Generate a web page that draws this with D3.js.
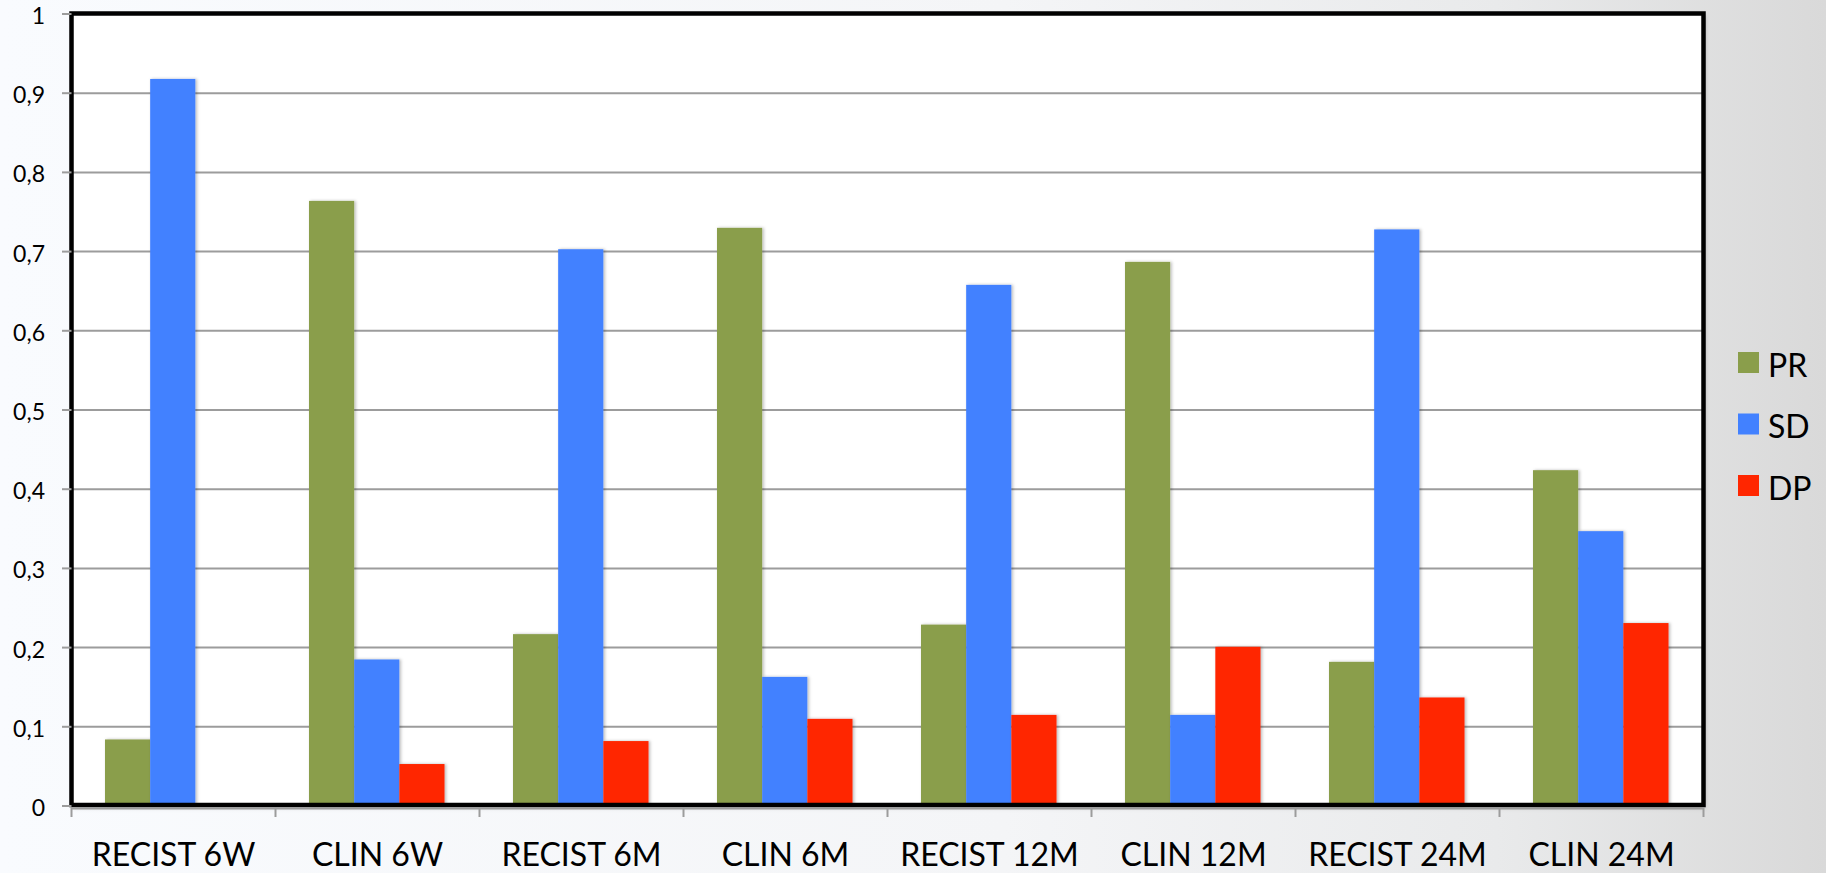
<!DOCTYPE html>
<html>
<head>
<meta charset="utf-8">
<script src="https://cdn.jsdelivr.net/npm/d3@7"></script>
<style>
  html, body { margin: 0; padding: 0; overflow: hidden; }
  svg { display: block; }
  text { font-family: Lato, "Open Sans", sans-serif; fill: #000; }
</style>
</head>
<body>
<svg id="chart" width="1826" height="873"></svg>
<script>
// Response categories per assessment time point
const categories = ["RECIST 6W", "CLIN 6W", "RECIST 6M", "CLIN 6M",
                    "RECIST 12M", "CLIN 12M", "RECIST 24M", "CLIN 24M"];
const seriesNames = ["PR", "SD", "DP"];
const seriesColors = ["#8a9e4b", "#4281ff", "#ff2600"];

const prValues = [0.084, 0.764, 0.217, 0.730, 0.229, 0.687, 0.182, 0.424];
const sdValues = [0.918, 0.185, 0.703, 0.163, 0.658, 0.115, 0.728, 0.347];
const dpValues = [0.000, 0.053, 0.082, 0.110, 0.115, 0.201, 0.137, 0.231];

const yTicks = [0, 0.1, 0.2, 0.3, 0.4, 0.5, 0.6, 0.7, 0.8, 0.9, 1];
const yTickLabels = ["0", "0,1", "0,2", "0,3", "0,4", "0,5", "0,6", "0,7", "0,8", "0,9", "1"];

const seriesValues = [prValues, sdValues, dpValues];

const W = 1826, H = 873;
const plot = { left: 71.5, right: 1703.5, top: 14, bottom: 806 };

const svg = d3.select("#chart");
const defs = svg.append("defs");

// Slide background: light on the left fading to grey on the right
const bg = defs.append("linearGradient").attr("id", "bgGrad")
  .attr("x1", "0%").attr("y1", "0%").attr("x2", "100%").attr("y2", "0%");
[["0%", "#f9fbfe"], ["55%", "#f4f5f7"], ["82%", "#e9eaeb"], ["100%", "#d9d9d9"]]
  .forEach(([o, c]) => bg.append("stop").attr("offset", o).attr("stop-color", c));

const shadow = defs.append("filter").attr("id", "barShadow")
  .attr("x", "-20%").attr("y", "-5%").attr("width", "140%").attr("height", "110%");
shadow.append("feDropShadow").attr("dx", 1.5).attr("dy", 0).attr("stdDeviation", 1.8)
  .attr("flood-color", "#000").attr("flood-opacity", 0.28);

const frameShadow = defs.append("filter").attr("id", "frameShadow")
  .attr("x", "-2%").attr("y", "-2%").attr("width", "104%").attr("height", "104%");
frameShadow.append("feDropShadow").attr("dx", 1.5).attr("dy", 1.5).attr("stdDeviation", 2)
  .attr("flood-color", "#000").attr("flood-opacity", 0.25);

svg.append("rect").attr("width", W).attr("height", H).attr("fill", "url(#bgGrad)");

// Scales
const x0 = d3.scaleBand().domain(categories).range([plot.left, plot.right]).padding(0);
const bw = x0.bandwidth();
const x1 = d3.scaleBand().domain(seriesNames).range([bw / 6 - 0.5, bw * 5 / 6 - 1]).padding(0);
const y = d3.scaleLinear().domain([0, 1]).range([plot.bottom, plot.top]);
const color = d3.scaleOrdinal().domain(seriesNames).range(seriesColors);

// Plot area
svg.append("rect")
  .attr("x", plot.left).attr("y", plot.top)
  .attr("width", plot.right - plot.left).attr("height", plot.bottom - plot.top)
  .attr("fill", "#fff").attr("filter", "url(#frameShadow)");

// Horizontal gridlines
svg.append("g").selectAll("line")
  .data(yTicks.filter(t => t > 0 && t < 1))
  .join("line")
  .attr("x1", plot.left).attr("x2", plot.right)
  .attr("y1", d => y(d)).attr("y2", d => y(d))
  .attr("stroke", "#9c9c9c").attr("stroke-width", 2);

// Bars
const rows = categories.map((c, i) => ({
  category: c,
  values: seriesNames.map((s, k) => ({ series: s, value: seriesValues[k][i] }))
}));

svg.append("g").selectAll("g")
  .data(rows)
  .join("g")
  .attr("transform", d => `translate(${x0(d.category)},0)`)
  .selectAll("rect")
  .data(d => d.values.filter(v => v.value > 0))
  .join("rect")
  .attr("x", d => x1(d.series))
  .attr("width", x1.bandwidth())
  .attr("y", d => y(d.value))
  .attr("height", d => y(0) - y(d.value))
  .attr("fill", d => color(d.series))
  .attr("filter", "url(#barShadow)");

// Black frame around the plot area
svg.append("rect")
  .attr("x", plot.left).attr("y", plot.top - 0.5)
  .attr("width", plot.right - plot.left).attr("height", plot.bottom - plot.top - 0.5)
  .attr("fill", "none").attr("stroke", "#000").attr("stroke-width", 4.5);

// Y axis ticks and labels
const yAxis = svg.append("g");
yAxis.selectAll("line")
  .data(yTicks)
  .join("line")
  .attr("x1", 62).attr("x2", plot.left)
  .attr("y1", d => y(d)).attr("y2", d => y(d))
  .attr("stroke", "#9c9c9c").attr("stroke-width", 2);
yAxis.selectAll("text")
  .data(yTicks)
  .join("text")
  .attr("x", 45).attr("y", d => y(d) + 10)
  .attr("text-anchor", "end")
  .attr("font-size", 23)
  .text((d, i) => yTickLabels[i]);

// X axis line, category separators and labels
const xAxis = svg.append("g");
xAxis.append("line")
  .attr("x1", plot.left).attr("x2", plot.right)
  .attr("y1", 808.5).attr("y2", 808.5)
  .attr("stroke", "#9c9c9c").attr("stroke-width", 2);
xAxis.selectAll("line.sep")
  .data(categories.concat(["end"]))
  .join("line").attr("class", "sep")
  .attr("x1", (d, i) => i < categories.length ? x0(d) : plot.right)
  .attr("x2", (d, i) => i < categories.length ? x0(d) : plot.right)
  .attr("y1", 807).attr("y2", 817)
  .attr("stroke", "#9c9c9c").attr("stroke-width", 2);
xAxis.selectAll("text")
  .data(categories)
  .join("text")
  .attr("x", d => x0(d) + bw / 2)
  .attr("y", 866)
  .attr("text-anchor", "middle")
  .attr("font-size", 32)
  .text(d => d);

// Legend
const legend = svg.append("g").attr("transform", "translate(1738,352)");
const item = legend.selectAll("g")
  .data(seriesNames)
  .join("g")
  .attr("transform", (d, i) => `translate(0,${i * 61.5})`);
item.append("rect")
  .attr("width", 21).attr("height", 21)
  .attr("fill", d => color(d));
item.append("text")
  .attr("x", 30).attr("y", 24.5)
  .attr("font-size", 32)
  .text(d => d);
</script>
</body>
</html>
